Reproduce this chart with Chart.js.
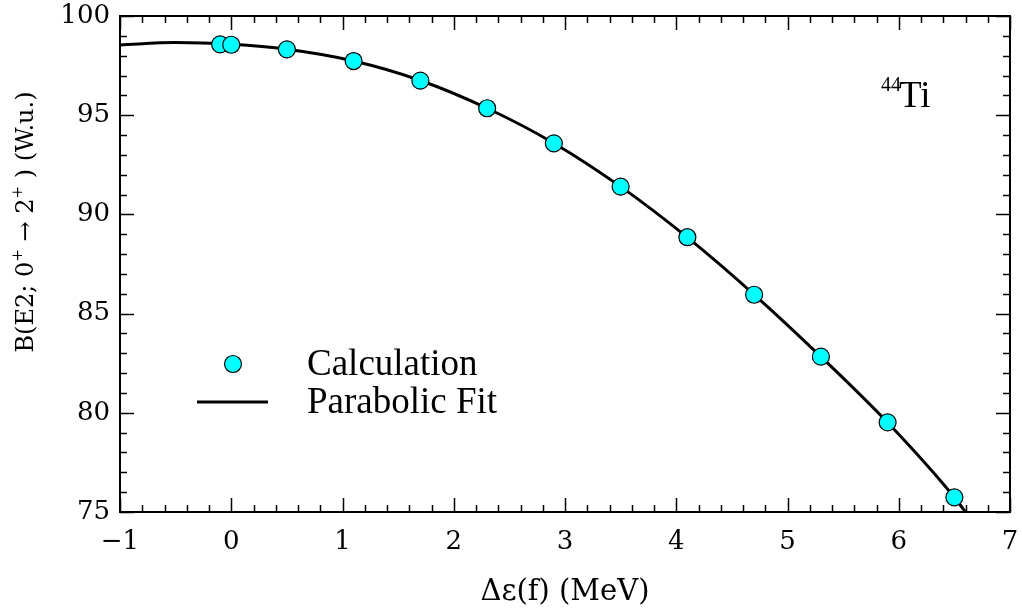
<!DOCTYPE html>
<html>
<head>
<meta charset="utf-8">
<script src="https://cdn.jsdelivr.net/npm/chart.js@4/dist/chart.umd.min.js"></script>
<style>
html,body{margin:0;padding:0;background:#fff;}
#wrap{width:1022px;height:614px;position:relative;}
</style>
</head>
<body>
<div id="wrap"><canvas id="c" width="1022" height="614"></canvas></div>
<script>
// Calculation points
const calcX = [-0.1, 0, 0.5, 1.1, 1.7, 2.3, 2.9, 3.5, 4.1, 4.7, 5.3, 5.9, 6.5];
const calcY = [98.57, 98.55, 98.32, 97.73, 96.74, 95.35, 93.58, 91.40, 88.85, 85.95, 82.83, 79.52, 75.74];
// Parabolic fit curve
const fitX = [-1, -0.5, 0, 0.5, 1.1, 1.7, 2.3, 2.9, 3.5, 4.1, 4.7, 5.3, 5.9, 6.5, 6.6];
const fitY = [98.54, 98.66, 98.57, 98.32, 97.73, 96.75, 95.35, 93.59, 91.40, 88.84, 85.96, 82.83, 79.51, 75.74, 75.0];
// Axes
const xTicks = [-1, 0, 1, 2, 3, 4, 5, 6, 7];
const yTicks = [75, 80, 85, 90, 95, 100];
const xMinorStep = 0.2;
const yMinorStep = 1;

const calcPts = calcX.map((x, i) => ({x: x, y: calcY[i]}));
const fitPts = fitX.map((x, i) => ({x: x, y: fitY[i]}));

const decor = {
  id: 'decor',
  afterDraw(chart) {
    const ctx = chart.ctx;
    const a = chart.chartArea;
    const xs = chart.scales.x, ys = chart.scales.y;
    ctx.save();
    // frame
    ctx.strokeStyle = '#000';
    ctx.lineWidth = 2;
    ctx.strokeRect(a.left, a.top, a.right - a.left, a.bottom - a.top);
    // ticks
    ctx.lineWidth = 1.5;
    ctx.beginPath();
    const xmin = xTicks[0], xmax = xTicks[xTicks.length - 1];
    const nx = Math.round((xmax - xmin) / xMinorStep);
    for (let i = 0; i <= nx; i++) {
      const v = xmin + i * xMinorStep;
      const major = (i % Math.round(1 / xMinorStep)) === 0;
      const len = major ? 14 : 7;
      const px = Math.round(xs.getPixelForValue(v)) + 0.5;
      ctx.moveTo(px, a.bottom); ctx.lineTo(px, a.bottom - len);
      ctx.moveTo(px, a.top); ctx.lineTo(px, a.top + len);
    }
    const ymin = yTicks[0], ymax = yTicks[yTicks.length - 1];
    const ny = Math.round((ymax - ymin) / yMinorStep);
    for (let i = 0; i <= ny; i++) {
      const v = ymin + i * yMinorStep;
      const major = (i % 5) === 0;
      const len = major ? 14 : 7;
      const py = Math.round(ys.getPixelForValue(v)) + 0.5;
      ctx.moveTo(a.left, py); ctx.lineTo(a.left + len, py);
      ctx.moveTo(a.right, py); ctx.lineTo(a.right - len, py);
    }
    ctx.stroke();

    // x title
    ctx.fillStyle = '#000';
    ctx.font = '29px "DejaVu Serif"';
    ctx.textAlign = 'center';
    ctx.textBaseline = 'alphabetic';
    ctx.fillText('Δε(f) (MeV)', (a.left + a.right) / 2, 600);

    // y title with superscripts
    ctx.save();
    ctx.translate(33, 222);
    ctx.rotate(-Math.PI / 2);
    const big = '24px "DejaVu Serif"', small = '15px "DejaVu Serif"';
    const parts = [
      ['B(E2; 0', big, 0], ['+', small, -11], [' → 2', big, 0], ['+', small, -11], [' ) (W.u.)', big, 0]
    ];
    let total = 0;
    parts.forEach(p => { ctx.font = p[1]; total += ctx.measureText(p[0]).width; });
    let cx = -total / 2;
    ctx.textAlign = 'left';
    parts.forEach(p => { ctx.font = p[1]; ctx.fillText(p[0], cx, p[2]); cx += ctx.measureText(p[0]).width; });
    ctx.restore();

    // 44Ti label
    ctx.textAlign = 'left';
    ctx.font = '20px "Liberation Serif"';
    ctx.fillText('44', 881, 91);
    ctx.font = '37px "Liberation Serif"';
    ctx.fillText('Ti', 899, 107);

    // legend
    ctx.beginPath();
    ctx.arc(233, 364, 8.5, 0, Math.PI * 2);
    ctx.fillStyle = '#00ffff';
    ctx.fill();
    ctx.lineWidth = 1.2;
    ctx.strokeStyle = '#000';
    ctx.stroke();
    ctx.beginPath();
    ctx.lineWidth = 3;
    ctx.moveTo(197, 402); ctx.lineTo(268, 402);
    ctx.stroke();
    ctx.fillStyle = '#000';
    ctx.font = '37px "Liberation Serif"';
    ctx.fillText('Calculation', 307, 375);
    ctx.fillText('Parabolic Fit', 307, 413);
    ctx.restore();
  }
};

new Chart(document.getElementById('c'), {
  type: 'scatter',
  data: {
    datasets: [
      {
        label: 'Parabolic Fit',
        data: fitPts,
        showLine: true,
        borderColor: '#000',
        borderWidth: 3,
        pointRadius: 0,
        cubicInterpolationMode: 'monotone',
        clip: 0,
        order: 2
      },
      {
        label: 'Calculation',
        data: calcPts,
        showLine: false,
        pointRadius: 8.5,
        pointBackgroundColor: '#00ffff',
        pointBorderColor: '#000',
        pointBorderWidth: 1.2,
        clip: false,
        order: 1
      }
    ]
  },
  options: {
    responsive: false,
    animation: false,
    events: [],
    layout: { padding: { top: 16, right: 12, left: 0, bottom: 0 } },
    plugins: { legend: { display: false }, tooltip: { enabled: false } },
    scales: {
      x: {
        type: 'linear',
        min: -1, max: 7,
        afterFit: s => { s.height = 102; s.paddingLeft = 0; s.paddingRight = 0; },
        afterBuildTicks: s => { s.ticks = xTicks.map(v => ({value: v})); },
        grid: { display: false, drawTicks: false },
        border: { display: false },
        ticks: {
          color: '#000',
          font: { family: 'DejaVu Serif', size: 26 },
          padding: 15,
          maxRotation: 0,
          callback: v => String(v).replace('-', '\u2212')
        }
      },
      y: {
        type: 'linear',
        min: 75, max: 100,
        afterFit: s => { s.width = 120; s.paddingTop = 0; s.paddingBottom = 0; },
        afterBuildTicks: s => { s.ticks = yTicks.map(v => ({value: v})); },
        grid: { display: false, drawTicks: false },
        border: { display: false },
        ticks: {
          color: '#000',
          font: { family: 'DejaVu Serif', size: 26 },
          padding: 10
        }
      }
    }
  },
  plugins: [decor]
});
</script>
</body>
</html>
